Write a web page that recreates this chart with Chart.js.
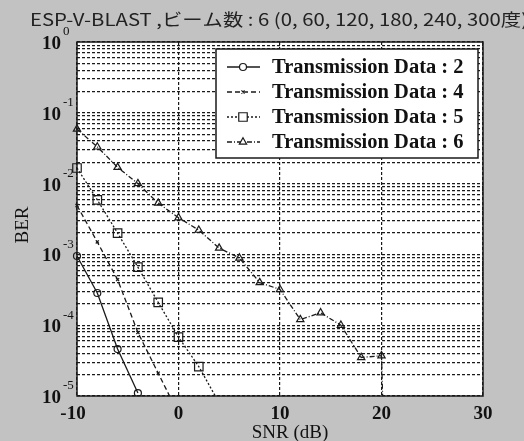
<!DOCTYPE html>
<html>
<head>
<meta charset="utf-8">
<script src="https://cdn.jsdelivr.net/npm/chart.js@4"></script>
<style>
  html, body { margin: 0; padding: 0; background: #c2c2c2; }
</style>
</head>
<body>
<canvas id="berChart" width="524" height="441"></canvas>
<script>
// SNR (dB) / BER per number of transmitted streams
const snr2 = [-10, -8, -6, -4];
const ber2 = [9.5e-4, 2.85e-4, 4.6e-5, 1.1e-5];

const snr4 = [-10, -8, -6, -4, -2, 0];
const ber4 = [4.9e-3, 1.5e-3, 4.4e-4, 7.9e-5, 2.1e-5, 5.6e-6];

const snr5 = [-10, -8, -6, -4, -2, 0, 2, 4];
const ber5 = [1.66e-2, 5.9e-3, 2.0e-3, 6.6e-4, 2.1e-4, 6.8e-5, 2.6e-5, 8e-6];

const snr6 = [-10, -8, -6, -4, -2, 0, 2, 4, 6, 8, 10, 12, 14, 16, 18, 20, 20.3];
const ber6 = [5.9e-2, 3.3e-2, 1.7e-2, 1.0e-2, 5.3e-3, 3.3e-3, 2.2e-3, 1.23e-3, 8.9e-4,
              4.0e-4, 3.2e-4, 1.2e-4, 1.5e-4, 1.0e-4, 3.5e-5, 3.7e-5, 1e-6];

const seriesLabels = ['Transmission Data : 2', 'Transmission Data : 4',
                      'Transmission Data : 5', 'Transmission Data : 6'];
const xTicks = [-10, 0, 10, 20, 30];
const yExponents = [0, -1, -2, -3, -4, -5];
const titleText = 'ESP-V-BLAST ,ビーム数 : 6 (0, 60, 120, 180, 240, 300度)';

function pairs(xs, ys) {
    return xs.map((x, i) => ({ x: x, y: ys[i] }));
}

const ink = '#1a1a1a';
const serif = "'Liberation Serif', 'DejaVu Serif', serif";

function lineSet(label, xs, ys, dash, shape, radius) {
    return {
        label: label,
        data: pairs(xs, ys),
        borderColor: ink,
        borderWidth: 1.3,
        borderDash: dash,
        pointStyle: shape,
        pointRadius: radius,
        pointBorderWidth: 1.2,
        pointBorderColor: ink,
        pointBackgroundColor: 'rgba(255,255,255,0)',
        tension: 0,
        clip: { left: 8, top: 0, right: 0, bottom: 0 }
    };
}

const datasets = [
    lineSet(seriesLabels[0], snr2, ber2, [], 'circle', 3.5),
    lineSet(seriesLabels[1], snr4, ber4, [5, 3], 'crossRot', 2.2),
    lineSet(seriesLabels[2], snr5, ber5, [2, 2], 'rect', 6),
    lineSet(seriesLabels[3], snr6, ber6, [5, 2, 1, 2], 'triangle', 4.2)
];

// gray page, white plot area
const backdrop = {
    id: 'backdrop',
    beforeDraw(chart) {
        const { ctx, chartArea: a } = chart;
        ctx.save();
        ctx.fillStyle = '#c2c2c2';
        ctx.fillRect(0, 0, chart.width, chart.height);
        ctx.fillStyle = '#ffffff';
        ctx.fillRect(a.left, a.top, a.right - a.left, a.bottom - a.top);
        ctx.restore();
    }
};

// frame, tick labels, axis titles, header and legend box
const decorations = {
    id: 'decorations',
    afterDraw(chart) {
        const { ctx, chartArea: a } = chart;
        const xs = chart.scales.x, ys = chart.scales.y;
        ctx.save();

        ctx.strokeStyle = ink;
        ctx.lineWidth = 1.5;
        ctx.setLineDash([]);
        ctx.strokeRect(a.left, a.top, a.right - a.left, a.bottom - a.top);

        ctx.fillStyle = '#111';
        ctx.textBaseline = 'middle';

        // y labels 10^k
        yExponents.forEach(k => {
            const py = ys.getPixelForValue(Math.pow(10, k));
            ctx.font = 'bold 19px ' + serif;
            ctx.textAlign = 'right';
            ctx.fillText('10', a.left - 16, py + 2);
            ctx.font = '13px ' + serif;
            ctx.textAlign = 'left';
            ctx.fillText(String(k), a.left - 14, py - 10);
        });

        // x labels
        ctx.font = 'bold 19px ' + serif;
        ctx.textAlign = 'center';
        xTicks.forEach(v => {
            const px = xs.getPixelForValue(v);
            ctx.fillText(String(v), px - (v < 0 ? 4 : 0), a.bottom + 18);
        });

        ctx.font = '19px ' + serif;
        ctx.fillText('SNR (dB)', 290, a.bottom + 37);

        ctx.save();
        ctx.translate(23, 225);
        ctx.rotate(-Math.PI / 2);
        ctx.fillText('BER', 0, 0);
        ctx.restore();

        // header line, squeezed to the page width
        ctx.font = "17px 'Noto Sans CJK JP'";
        ctx.textAlign = 'left';
        const w = ctx.measureText(titleText).width;
        ctx.save();
        ctx.translate(30, 20);
        ctx.scale(498 / w, 1);
        ctx.fillStyle = '#222';
        ctx.fillText(titleText, 0, 0);
        ctx.restore();

        // legend
        const bx = 216, by = 49, bw = 262, bh = 109;
        ctx.fillStyle = '#ffffff';
        ctx.fillRect(bx, by, bw, bh);
        ctx.strokeStyle = ink;
        ctx.lineWidth = 1.5;
        ctx.strokeRect(bx, by, bw, bh);

        chart.data.datasets.forEach((ds, i) => {
            const rowY = 67 + i * 25;
            ctx.save();
            ctx.strokeStyle = ds.borderColor;
            ctx.lineWidth = ds.borderWidth;
            ctx.setLineDash(ds.borderDash);
            ctx.beginPath();
            ctx.moveTo(227, rowY);
            ctx.lineTo(260, rowY);
            ctx.stroke();
            ctx.setLineDash([]);
            ctx.fillStyle = '#ffffff';
            ctx.lineWidth = ds.pointBorderWidth;
            Chart.helpers.drawPoint(ctx, {
                pointStyle: ds.pointStyle,
                radius: ds.pointRadius,
                borderWidth: ds.pointBorderWidth,
                rotation: 0
            }, 243, rowY);
            ctx.restore();

            ctx.fillStyle = '#111';
            ctx.font = 'bold 20.5px ' + serif;
            ctx.textAlign = 'left';
            ctx.fillText(ds.label, 272, rowY + 1);
        });

        ctx.restore();
    }
};

const gridStyle = { color: '#1a1a1a', lineWidth: 1.2, drawTicks: false };

new Chart(document.getElementById('berChart'), {
    type: 'line',
    data: { datasets: datasets },
    options: {
        responsive: false,
        animation: false,
        layout: { padding: { left: 77, right: 41, top: 42, bottom: 45 } },
        plugins: {
            legend: { display: false },
            tooltip: { enabled: false }
        },
        scales: {
            x: {
                type: 'linear',
                min: -10,
                max: 30,
                ticks: { display: false, stepSize: 10 },
                grid: gridStyle,
                border: { display: false, dash: [3, 2] }
            },
            y: {
                type: 'logarithmic',
                min: 1e-5,
                max: 1,
                ticks: { display: false },
                grid: gridStyle,
                border: { display: false, dash: [3, 2] },
                afterBuildTicks(scale) {
                    // 1..9 x 10^k in every decade
                    const t = [];
                    for (let k = -5; k < 0; k++) {
                        for (let m = 1; m <= 9; m++) {
                            t.push({ value: m * Math.pow(10, k) });
                        }
                    }
                    t.push({ value: 1 });
                    scale.ticks = t;
                }
            }
        }
    },
    plugins: [backdrop, decorations]
});
</script>
</body>
</html>
